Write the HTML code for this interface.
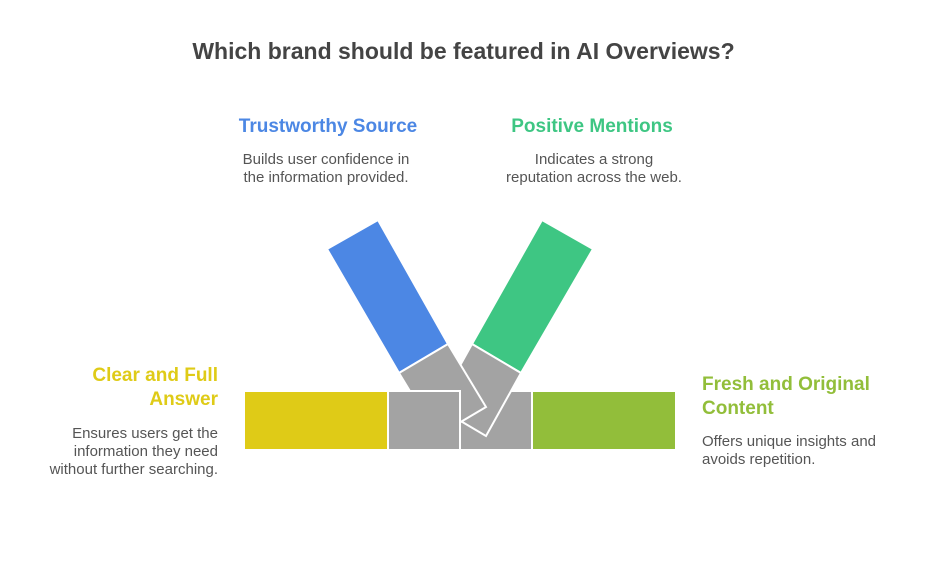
<!DOCTYPE html>
<html><head><style>
body{margin:0;width:927px;height:561px;background:#fff;position:relative;overflow:hidden;font-family:"Liberation Sans",sans-serif}
.t{position:absolute;white-space:nowrap}
.h{font-weight:bold;font-size:19px;line-height:24px}
.b{font-size:15px;line-height:18px;color:#555}
</style></head><body>
<div class="t" style="left:0;width:927px;text-align:center;top:38px;font-size:23px;font-weight:bold;color:#444">Which brand should be featured in AI Overviews?</div>
<div class="t h" style="left:228px;width:200px;text-align:center;top:115px;color:#4c87e4">Trustworthy Source</div>
<div class="t b" style="left:226px;width:200px;text-align:center;top:151px">Builds user confidence in<br>the information provided.</div>
<div class="t h" style="left:492px;width:200px;text-align:center;top:115px;color:#3ec683">Positive Mentions</div>
<div class="t b" style="left:494px;width:200px;text-align:center;top:151px">Indicates a strong<br>reputation across the web.</div>
<div class="t h" style="left:18px;width:200px;text-align:right;top:364px;color:#dfcb17">Clear and Full<br>Answer</div>
<div class="t b" style="left:18px;width:200px;text-align:right;top:425px">Ensures users get the<br>information they need<br>without further searching.</div>
<div class="t h" style="left:702px;top:373px;color:#92be3a">Fresh and Original<br>Content</div>
<div class="t b" style="left:702px;top:433px">Offers unique insights and<br>avoids repetition.</div>
<svg width="927" height="561" style="position:absolute;left:0;top:0">
<g stroke="#fff" stroke-width="2" stroke-linejoin="miter">
<rect x="244" y="391" width="144" height="59" fill="#dfcb17"/>
<rect x="532" y="391" width="144" height="59" fill="#92be3a"/>
<rect x="460" y="391" width="72" height="59" fill="#a3a3a3"/>
<polygon points="542,220 593,249 521,373 472,344" fill="#3ec683"/>
<polygon points="472,344 521,373 486,436 437,407" fill="#a3a3a3"/>
<polygon points="378,220 327,249 399,373 448,344" fill="#4c87e4"/>
<polygon points="448,344 486,407 437,436 399,373" fill="#a3a3a3"/>
<rect x="388" y="391" width="72" height="59" fill="#a3a3a3"/>
</g>
</svg>
</body></html>
